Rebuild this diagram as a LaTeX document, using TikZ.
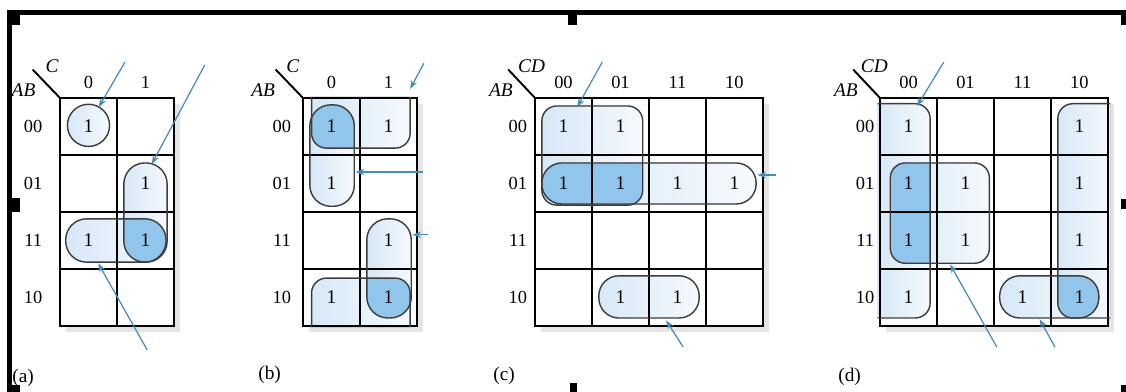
\documentclass[tikz,border=0pt]{standalone}
\usepackage{fontspec}
\setmainfont{Liberation Serif}
\usetikzlibrary{arrows.meta}
\definecolor{kmlight}{RGB}{214,232,247}
\definecolor{kmpale}{RGB}{245,249,253}
\definecolor{kmdark}{RGB}{146,197,236}
\definecolor{kmarrow}{RGB}{70,140,185}
\definecolor{kmloop}{RGB}{60,60,60}

\begin{document}
\begin{tikzpicture}[x=0.02cm, y=-0.02cm,
  cellline/.style={line width=1.3pt},
  loopline/.style={draw=kmloop, line width=0.8pt},
  lightfill/.style={left color=kmlight, right color=kmpale},
  darkfill/.style={fill=kmdark},
  pointer/.style={draw=kmarrow, line width=0.7pt, -{Stealth[length=5pt,width=3.6pt]}},
  val/.style={font=\fontsize{11}{12}\selectfont, inner sep=0pt},
  hdr/.style={font=\fontsize{10.5}{12}\selectfont, inner sep=0pt},
  var/.style={font=\fontsize{11}{12}\selectfont\itshape, inner sep=0pt},
  tag/.style={font=\fontsize{11}{12}\selectfont, inner sep=0pt, anchor=west}]
\useasboundingbox (0,0) rectangle (1126,392);

% frame and handles
\draw[line width=2.8pt] (9.5,392) -- (9.5,12.5) -- (1126,12.5);
\fill (7,10) rectangle (20,25);
\fill (7,198) rectangle (20,212);
\fill (7,385) rectangle (20,392);
\fill (568,10) rectangle (577,25);
\fill (570,383) rectangle (577,392);
\fill (1121,10) rectangle (1126,25);
\fill (1121,199) rectangle (1126,209);
\fill (1121,385) rectangle (1126,392);

% (a)
\begin{scope}[shift={(60,98)}, x=1.14cm, y=-1.14cm]
\def\aloopA{(0.5,0.48) circle[radius=0.37]}
\def\aloopB{[rounded corners=0.42cm] (1.12,1.14) rectangle (1.88,2.88)}
\def\aloopC{[rounded corners=0.42cm] (0.1,2.12) rectangle (1.86,2.88)}
\fill[black!10] (0.1,0.1) rectangle (2.1,4.1);
\fill[white] (0,0) rectangle (2,4);
\fill[lightfill] \aloopA;
\fill[lightfill] \aloopB;
\fill[lightfill] \aloopC;
\begin{scope}
\clip \aloopB;
\fill[darkfill] \aloopC;
\end{scope}
\draw[cellline] (0,0) rectangle (2,4);
\foreach \i in {1,2,3} \draw[cellline] (0,\i) -- (2,\i);
\draw[cellline] (1,0) -- (1,4);
\draw[loopline] \aloopA;
\draw[loopline] \aloopB;
\draw[loopline] \aloopC;
\draw[line width=1.1pt] (0,0) -- (-0.48,-0.5);
\node[var] (a-in) at (-0.14,-0.55) {C};
\node[var] (a-ab) at (-0.64,-0.14) {AB};
\foreach \t [count=\i from 0] in {0,1} \node[hdr] (a-col\i) at (\i+0.5,-0.28) {\t};
\foreach \t [count=\i from 0] in {00,01,11,10} \node[hdr] (a-row\i) at (-0.47,\i+0.5) {\t};
\foreach \c/\r in {0/0,1/1,0/2,1/2} \node[val] (a-\c\r) at (\c+0.5,\r+0.5) {1};
\coordinate (a-p1) at (1.14,-0.63);
\coordinate (a-q1) at (0.68,0.16);
\coordinate (a-p2) at (2.54,-0.58);
\coordinate (a-q2) at (1.61,1.16);
\coordinate (a-p3) at (1.53,4.42);
\coordinate (a-q3) at (0.67,2.9);
\draw[pointer] (a-p1) -- (a-q1);
\draw[pointer] (a-p2) -- (a-q2);
\draw[pointer] (a-p3) -- (a-q3);
\end{scope}

% (b)
\begin{scope}[shift={(303,98)}, x=1.14cm, y=-1.14cm]
\def\bloopA{[rounded corners=0.3cm] (0.15,-0.02) -- (0.15,0.88) -- (1.88,0.88) -- (1.88,-0.02)}
\def\bloopB{[rounded corners=0.3cm] (0.15,4.02) -- (0.15,3.16) -- (1.88,3.16) -- (1.88,4.02)}
\def\bloopC{[rounded corners=0.42cm] (0.12,0.12) rectangle (0.9,1.9)}
\def\bloopD{[rounded corners=0.42cm] (1.12,2.12) rectangle (1.9,3.86)}
\fill[black!10] (0.1,0.1) rectangle (2.1,4.1);
\fill[white] (0,0) rectangle (2,4);
\fill[lightfill] \bloopA;
\fill[lightfill] \bloopB;
\fill[lightfill] \bloopC;
\fill[lightfill] \bloopD;
\begin{scope}
\clip \bloopA;
\fill[darkfill] \bloopC;
\end{scope}
\begin{scope}
\clip \bloopB;
\fill[darkfill] \bloopD;
\end{scope}
\draw[cellline] (0,0) rectangle (2,4);
\foreach \i in {1,2,3} \draw[cellline] (0,\i) -- (2,\i);
\draw[cellline] (1,0) -- (1,4);
\draw[loopline] \bloopA;
\draw[loopline] \bloopB;
\draw[loopline] \bloopC;
\draw[loopline] \bloopD;
\draw[line width=1.1pt] (0,0) -- (-0.48,-0.5);
\node[var] (b-in) at (-0.18,-0.55) {C};
\node[var] (b-ab) at (-0.7,-0.14) {AB};
\foreach \t [count=\i from 0] in {0,1} \node[hdr] (b-col\i) at (\i+0.5,-0.28) {\t};
\foreach \t [count=\i from 0] in {00,01,11,10} \node[hdr] (b-row\i) at (-0.37,\i+0.5) {\t};
\foreach \c/\r in {0/0,1/0,0/1,1/2,0/3,1/3} \node[val] (b-\c\r) at (\c+0.5,\r+0.5) {1};
\coordinate (b-p1) at (2.12,-0.61);
\coordinate (b-q1) at (1.88,-0.16);
\coordinate (b-p2) at (2.1,1.3);
\coordinate (b-q2) at (0.92,1.3);
\coordinate (b-p3) at (2.2,2.4);
\coordinate (b-q3) at (1.92,2.4);
\draw[pointer] (b-p1) -- (b-q1);
\draw[pointer] (b-p2) -- (b-q2);
\draw[pointer] (b-p3) -- (b-q3);
\end{scope}

% (c)
\begin{scope}[shift={(535,98)}, x=1.14cm, y=-1.14cm]
\def\cloopA{[rounded corners=0.3cm] (0.12,0.14) rectangle (1.89,1.88)}
\def\cloopB{[rounded corners=0.4cm] (0.12,1.14) rectangle (3.88,1.86)}
\def\cloopC{[rounded corners=0.4cm] (1.12,3.12) rectangle (2.88,3.86)}
\fill[black!10] (0.1,0.1) rectangle (4.1,4.1);
\fill[white] (0,0) rectangle (4,4);
\fill[lightfill] \cloopA;
\fill[lightfill] \cloopB;
\fill[lightfill] \cloopC;
\begin{scope}
\clip \cloopA;
\fill[darkfill] \cloopB;
\end{scope}
\draw[cellline] (0,0) rectangle (4,4);
\foreach \i in {1,2,3} \draw[cellline] (0,\i) -- (4,\i);
\foreach \i in {1,2,3} \draw[cellline] (\i,0) -- (\i,4);
\draw[loopline] \cloopA;
\draw[loopline] \cloopB;
\draw[loopline] \cloopC;
\draw[line width=1.1pt] (0,0) -- (-0.47,-0.5);
\node[var] (c-in) at (-0.06,-0.55) {CD};
\node[var] (c-ab) at (-0.6,-0.14) {AB};
\foreach \t [count=\i from 0] in {00,01,11,10} \node[hdr] (c-col\i) at (\i+0.5,-0.28) {\t};
\foreach \t [count=\i from 0] in {00,01,11,10} \node[hdr] (c-row\i) at (-0.3,\i+0.5) {\t};
\foreach \c/\r in {0/0,1/0,0/1,1/1,2/1,3/1,1/3,2/3} \node[val] (c-\c\r) at (\c+0.5,\r+0.5) {1};
\coordinate (c-p1) at (1.18,-0.63);
\coordinate (c-q1) at (0.74,0.16);
\coordinate (c-p2) at (4.22,1.35);
\coordinate (c-q2) at (3.9,1.35);
\coordinate (c-p3) at (2.6,4.37);
\coordinate (c-q3) at (2.3,3.9);
\draw[pointer] (c-p1) -- (c-q1);
\draw[pointer] (c-p2) -- (c-q2);
\draw[pointer] (c-p3) -- (c-q3);
\end{scope}

% (d)
\begin{scope}[shift={(880,98)}, x=1.14cm, y=-1.14cm]
\def\dloopA{[rounded corners=0.3cm] (-0.04,0.1) -- (0.88,0.1) -- (0.88,3.86) -- (-0.04,3.86)}
\def\dloopB{[rounded corners=0.3cm] (4.04,0.1) -- (3.12,0.1) -- (3.12,3.86) -- (4.04,3.86)}
\def\dloopC{[rounded corners=0.3cm] (0.18,1.14) rectangle (1.92,2.9)}
\def\dloopD{[rounded corners=0.4cm] (2.1,3.12) rectangle (3.84,3.86)}
\fill[black!10] (0.1,0.1) rectangle (4.1,4.1);
\fill[white] (0,0) rectangle (4,4);
\fill[lightfill] \dloopA;
\fill[lightfill] \dloopB;
\fill[lightfill] \dloopC;
\fill[lightfill] \dloopD;
\begin{scope}
\clip \dloopA;
\fill[darkfill] \dloopC;
\end{scope}
\begin{scope}
\clip \dloopB;
\fill[darkfill] \dloopD;
\end{scope}
\draw[cellline] (0,0) rectangle (4,4);
\foreach \i in {1,2,3} \draw[cellline] (0,\i) -- (4,\i);
\foreach \i in {1,2,3} \draw[cellline] (\i,0) -- (\i,4);
\draw[loopline] \dloopA;
\draw[loopline] \dloopB;
\draw[loopline] \dloopC;
\draw[loopline] \dloopD;
\draw[line width=1.1pt] (0,0) -- (-0.47,-0.5);
\node[var] (d-in) at (-0.1,-0.55) {CD};
\node[var] (d-ab) at (-0.6,-0.14) {AB};
\foreach \t [count=\i from 0] in {00,01,11,10} \node[hdr] (d-col\i) at (\i+0.5,-0.28) {\t};
\foreach \t [count=\i from 0] in {00,01,11,10} \node[hdr] (d-row\i) at (-0.26,\i+0.5) {\t};
\foreach \c/\r in {0/0,3/0,0/1,1/1,3/1,0/2,1/2,3/2,0/3,2/3,3/3} \node[val] (d-\c\r) at (\c+0.5,\r+0.5) {1};
\coordinate (d-p1) at (1.12,-0.63);
\coordinate (d-q1) at (0.65,0.14);
\coordinate (d-p2) at (2.05,4.37);
\coordinate (d-q2) at (1.23,2.92);
\coordinate (d-p3) at (3.07,4.37);
\coordinate (d-q3) at (2.8,3.88);
\draw[pointer] (d-p1) -- (d-q1);
\draw[pointer] (d-p2) -- (d-q2);
\draw[pointer] (d-p3) -- (d-q3);
\end{scope}

% panel tags
\node[tag] (tag-a) at (12,378) {(a)};
\node[tag] (tag-b) at (258,375) {(b)};
\node[tag] (tag-c) at (493,376) {(c)};
\node[tag] (tag-d) at (838,377) {(d)};
\end{tikzpicture}
\end{document}
